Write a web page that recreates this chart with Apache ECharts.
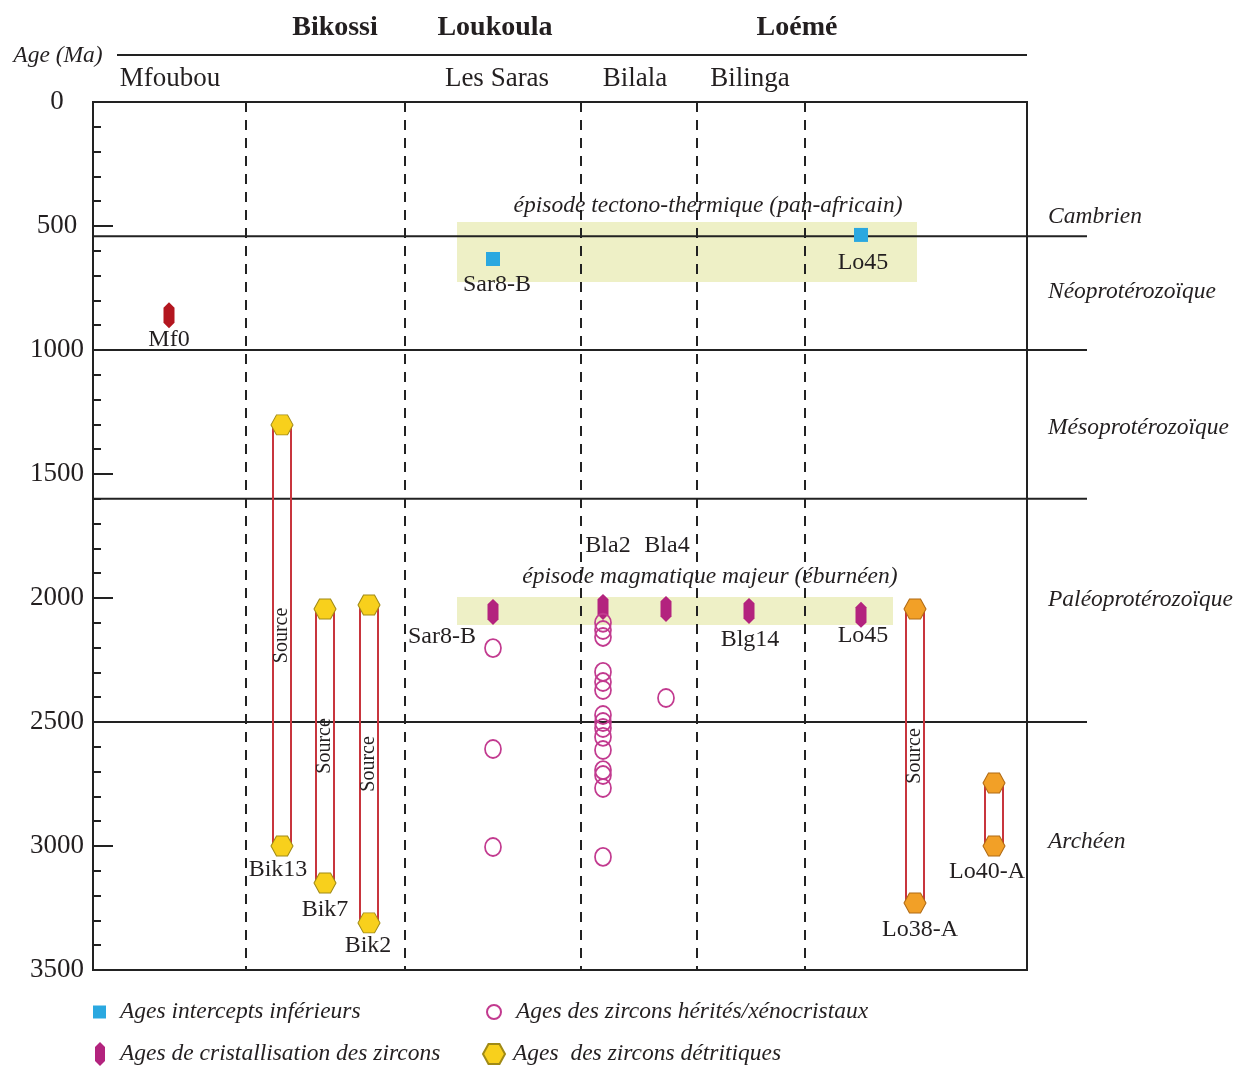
<!DOCTYPE html>
<html><head><meta charset="utf-8">
<script src="https://cdn.jsdelivr.net/npm/echarts@6/dist/echarts.min.js"></script>
<style>html,body{margin:0;padding:0;background:#fff}#c{width:1244px;height:1066px}</style>
</head><body><div id="c"></div>
<script>
const FONT = '"Liberation Serif","Times New Roman",serif';
const INK = '#231f20';

// ---------- data ----------
const yTickLabels = [0, 500, 1000, 1500, 2000, 2500, 3000, 3500];
const interceptSamples = ['Sar8-B', 'Lo45'];
const interceptAges = [633, 536];
const crystSamples = ['Mf0', 'Sar8-B', 'Bla2', 'Bla4', 'Blg14', 'Lo45'];
const crystAges = [860, 2056, 2036, 2044, 2052, 2068];
const inheritedSamples = ['Sar8-B', 'Sar8-B', 'Sar8-B', 'Bla4',
  'Bla2', 'Bla2', 'Bla2', 'Bla2', 'Bla2', 'Bla2', 'Bla2', 'Bla2', 'Bla2', 'Bla2', 'Bla2', 'Bla2', 'Bla2', 'Bla2', 'Bla2'];
const inheritedAges = [2202, 2609, 3004, 2403,
  2100, 2129, 2157, 2298, 2339, 2371, 2472, 2500, 2524, 2560, 2613, 2694, 2714, 2766, 3044];
const detritalSamples = ['Bik13', 'Bik7', 'Bik2', 'Lo38-A', 'Lo40-A'];
const detritalYoung = [1302, 2044, 2028, 2044, 2746];
const detritalOld = [3000, 3149, 3310, 3230, 3000];
const detritalSourceLabel = [true, true, true, true, false];
const boundaryAges = [541, 1000, 1600, 2500];
const periodNames = ['Cambrien', 'Néoprotérozoïque', 'Mésoprotérozoïque', 'Paléoprotérozoïque', 'Archéen'];
const periodLabelAges = [464, 766, 1315, 2008, 2984];
const episodeNames = ['épisode tectono-thermique (pan-africain)', 'épisode magmatique majeur (éburnéen)'];
const episodeYoung = [484, 1996];
const episodeOld = [726, 2109];
const groupNames = ['Bikossi', 'Loukoula', 'Loémé'];
const localityNames = ['Mfoubou', 'Les Saras', 'Bilala', 'Bilinga'];

// ---------- layout (horizontal lanes, offsets) ----------
const lane = {'Mf0': 76, 'Bik13': 189, 'Bik7': 232, 'Bik2': 276, 'Sar8-B': 400, 'Bla2': 510,
  'Bla4': 573, 'Blg14': 656, 'Lo45': 768, 'Lo38-A': 822, 'Lo40-A': 901};
const dividerLanes = [153, 312, 488, 604, 712];
const episodeLaneSpan = [[364, 824], [364, 800]];
const episodeTextLane = [615, 617];
const episodeTextDy = [-16, -20];
const groupX = [335, 495, 797];
const localityX = [170, 497, 635, 750];
const interceptLabelOff = [[4, 26], [2, 28]];
const crystLabelOff = [[0, 24], [-51, 25], [5, -61], [1, -63], [1, 29], [2, 21]];
const detritalLabelOff = [[-4, 24], [0, 27], [-1, 23], [5, 27], [-7, 26]];

const HEX = 'path://M-11,0 L-5.5,-10 L5.5,-10 L11,0 L5.5,10 L-5.5,10 Z';
const CRYSTAL = 'path://M0,-12 L5,-7 L5,7 L0,12 L-5,7 L-5,-7 Z';
const SQUARE = 'path://M0,0 L10,0 L10,10 L0,10 Z';

// labels list
const labelList = [];
interceptSamples.forEach((s, i) => labelList.push({t: s, x: lane[s], a: interceptAges[i], dx: interceptLabelOff[i][0], dy: interceptLabelOff[i][1]}));
crystSamples.forEach((s, i) => labelList.push({t: s, x: lane[s], a: crystAges[i], dx: crystLabelOff[i][0], dy: crystLabelOff[i][1]}));
detritalSamples.forEach((s, i) => labelList.push({t: s, x: lane[s], a: detritalOld[i], dx: detritalLabelOff[i][0], dy: detritalLabelOff[i][1]}));

const detritalPoints = [];
detritalSamples.forEach((s, i) => {
  const orange = s.indexOf('Lo') === 0;
  const st = orange ? {color: '#f2a027', borderColor: '#b06a14'} : {color: '#f8d01c', borderColor: '#a08a16'};
  detritalPoints.push({value: [lane[s], detritalYoung[i]], itemStyle: st});
  detritalPoints.push({value: [lane[s], detritalOld[i]], itemStyle: st});
});

const chart = echarts.init(document.getElementById('c'), null, {renderer: 'canvas'});

const textStyleBase = {fill: INK, align: 'center', verticalAlign: 'middle'};

const graphic = [
  {type: 'line', shape: {x1: 117, y1: 55, x2: 1027, y2: 55}, style: {stroke: '#222', lineWidth: 2}},
  {type: 'text', x: 58, y: 56, style: Object.assign({text: 'Age (Ma)', font: 'italic 23.5px ' + FONT}, textStyleBase)}
];
groupNames.forEach((g, i) => graphic.push({type: 'text', x: groupX[i], y: 28,
  style: Object.assign({text: g, font: 'bold 28px ' + FONT}, textStyleBase)}));
localityNames.forEach((g, i) => graphic.push({type: 'text', x: localityX[i], y: 79,
  style: Object.assign({text: g, font: '27px ' + FONT}, textStyleBase)}));

const legendText = {fontFamily: FONT, fontStyle: 'italic', fontSize: 23.5, color: INK, lineHeight: 26};

const option = {
  animation: false,
  backgroundColor: '#fff',
  grid: {left: 93, right: 217, top: 102, bottom: 96, show: true, borderColor: '#222', borderWidth: 2},
  xAxis: {type: 'value', min: 0, max: 934, show: false},
  yAxis: {
    type: 'value', inverse: true, min: 0, max: 3500, interval: 500,
    axisLine: {show: true, lineStyle: {color: '#222', width: 2}},
    axisTick: {show: true, inside: true, length: 20, lineStyle: {color: '#222', width: 2}},
    minorTick: {show: true, splitNumber: 5, length: 8, lineStyle: {color: '#222', width: 2}},
    splitLine: {show: false},
    axisLabel: {margin: 36, align: 'center', fontFamily: FONT, fontSize: 27, color: INK,
      formatter: v => (yTickLabels.indexOf(v) >= 0 ? String(v) : '')}
  },
  legend: [
    {data: ['Ages intercepts inférieurs'], left: 93, top: 999, padding: 0, itemWidth: 13, itemHeight: 13, selectedMode: false, textStyle: Object.assign({padding: [0, 0, 0, 9]}, legendText)},
    {data: ['Ages de cristallisation des zircons'], left: 95, top: 1041, padding: 0, itemWidth: 10, itemHeight: 24, selectedMode: false, textStyle: Object.assign({padding: [0, 0, 0, 10]}, legendText)},
    {data: ['Ages des zircons hérités/xénocristaux'], left: 486, top: 999, padding: 0, itemWidth: 14, itemHeight: 17, selectedMode: false, textStyle: Object.assign({padding: [0, 0, 0, 10]}, legendText)},
    {data: ['Ages  des zircons détritiques'], left: 482, top: 1041, padding: 0, itemWidth: 22, itemHeight: 20, selectedMode: false, textStyle: Object.assign({padding: [0, 0, 0, 3]}, legendText)}
  ],
  graphic: graphic,
  series: [
    { // episode bands
      type: 'custom', z: 1, silent: true,
      data: episodeNames.map((n, i) => [episodeLaneSpan[i][0], episodeYoung[i], episodeLaneSpan[i][1], episodeOld[i]]),
      renderItem: (params, api) => {
        const p0 = api.coord([api.value(0), api.value(1)]);
        const p1 = api.coord([api.value(2), api.value(3)]);
        return {type: 'rect', shape: {x: p0[0], y: p0[1], width: p1[0] - p0[0], height: p1[1] - p0[1]}, style: {fill: '#eef0c6'}};
      }
    },
    { // episode names
      type: 'custom', z: 7, silent: true,
      data: episodeNames.map((n, i) => [episodeTextLane[i], episodeYoung[i]]),
      renderItem: (params, api) => {
        const i = params.dataIndex;
        const tp = api.coord([api.value(0), api.value(1)]);
        return {type: 'text', x: tp[0], y: tp[1] + episodeTextDy[i], style: Object.assign({text: episodeNames[i], font: 'italic 23.5px ' + FONT}, textStyleBase)};
      }
    },
    { // boundary lines
      type: 'custom', z: 2, silent: true,
      data: boundaryAges.map(a => [0, a]),
      renderItem: (params, api) => {
        const cs = params.coordSys;
        const y = api.coord([0, api.value(1)])[1];
        return {type: 'line', shape: {x1: cs.x, y1: y, x2: cs.x + cs.width + 60, y2: y}, style: {stroke: '#222', lineWidth: 2}};
      }
    },
    { // period names
      type: 'custom', z: 2, silent: true,
      data: periodLabelAges.map(a => [0, a]),
      renderItem: (params, api) => {
        const cs = params.coordSys;
        const y = api.coord([0, api.value(1)])[1];
        return {type: 'text', x: cs.x + cs.width + 21, y: y,
          style: {text: periodNames[params.dataIndex], font: 'italic 23.5px ' + FONT, fill: INK, align: 'left', verticalAlign: 'middle'}};
      }
    },
    { // column dividers
      type: 'line', data: [], z: 2, silent: true,
      markLine: {silent: true, symbol: 'none', label: {show: false},
        lineStyle: {color: '#222', width: 2, type: [10, 8]},
        data: dividerLanes.map(x => ({xAxis: x}))}
    },
    { // source rectangles
      type: 'custom', z: 3, silent: true,
      data: detritalSamples.map((s, i) => [lane[s], detritalYoung[i], detritalOld[i]]),
      renderItem: (params, api) => {
        const p0 = api.coord([api.value(0), api.value(1)]);
        const p1 = api.coord([api.value(0), api.value(2)]);
        const ch = [{type: 'rect', shape: {x: p0[0] - 9, y: p0[1], width: 18, height: p1[1] - p0[1]},
          style: {fill: 'none', stroke: '#c8353d', lineWidth: 2}}];
        if (detritalSourceLabel[params.dataIndex]) {
          ch.push({type: 'text', x: p0[0], y: (p0[1] + p1[1]) / 2, rotation: Math.PI / 2,
            style: Object.assign({text: 'Source', font: '20px ' + FONT}, textStyleBase)});
        }
        return {type: 'group', children: ch};
      }
    },
    {
      name: 'Ages intercepts inférieurs', type: 'scatter', z: 5,
      symbol: SQUARE, symbolSize: [14, 14],
      itemStyle: {color: '#2aa8e0', opacity: 1},
      data: interceptSamples.map((s, i) => [lane[s], interceptAges[i]])
    },
    {
      name: 'Ages de cristallisation des zircons', type: 'scatter', z: 5,
      symbol: CRYSTAL, symbolSize: [11, 26],
      itemStyle: {color: '#b3237e', opacity: 1},
      data: crystSamples.map((s, i) => s === 'Mf0'
        ? {value: [lane[s], crystAges[i]], itemStyle: {color: '#b3161f'}}
        : [lane[s], crystAges[i]])
    },
    {
      name: 'Ages des zircons hérités/xénocristaux', type: 'scatter', z: 5,
      symbol: 'circle', symbolSize: [16, 18],
      itemStyle: {color: 'rgba(255,255,255,0)', borderColor: '#c23a8f', borderWidth: 1.8, opacity: 1},
      data: inheritedSamples.map((s, i) => [lane[s], inheritedAges[i]])
    },
    {
      name: 'Ages  des zircons détritiques', type: 'scatter', z: 5,
      symbol: HEX, symbolSize: [22, 20],
      itemStyle: {color: '#f8d01c', borderColor: '#a08a16', borderWidth: 1, opacity: 1},
      data: detritalPoints
    },
    { // sample labels
      type: 'custom', z: 6, silent: true,
      data: labelList.map(l => [l.x, l.a]),
      renderItem: (params, api) => {
        const l = labelList[params.dataIndex];
        const p = api.coord([api.value(0), api.value(1)]);
        return {type: 'text', x: p[0] + l.dx, y: p[1] + l.dy,
          style: Object.assign({text: l.t, font: '24px ' + FONT}, textStyleBase)};
      }
    }
  ]
};
chart.setOption(option);
</script>
</body></html>
